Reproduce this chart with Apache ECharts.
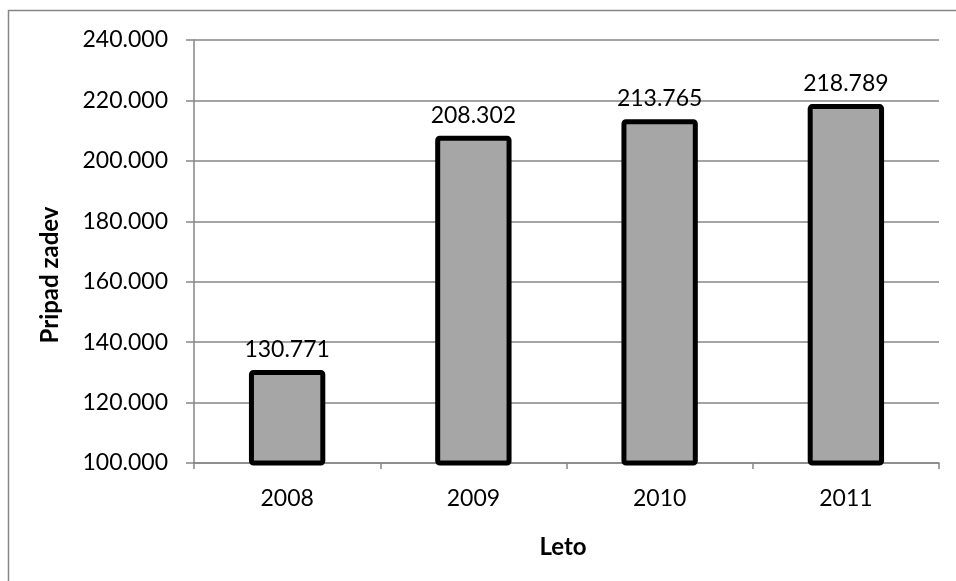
<!DOCTYPE html>
<html>
<head>
<meta charset="utf-8">
<script src="https://cdn.jsdelivr.net/npm/echarts@6/dist/echarts.min.js"></script>
<style>
html,body{margin:0;padding:0;background:#fff;}
#c{width:956px;height:581px;}
</style>
</head>
<body>
<div id="c"></div>
<script>
const categories = ['2008', '2009', '2010', '2011'];
const values = [130771, 208302, 213765, 218789];
const yMin = 100000, yMax = 240000, yStep = 20000;
const xTitle = 'Leto';
const yTitle = 'Pripad zadev';

function fmt(v) {
  return String(Math.round(v)).replace(/\B(?=(\d{3})+(?!\d))/g, '.');
}

const FONT = 'Lato';
const chart = echarts.init(document.getElementById('c'), null, {renderer: 'canvas'});
chart.setOption({
  animation: false,
  backgroundColor: '#fff',
  grid: {left: 194, right: 17, top: 40, bottom: 118, containLabel: false},
  xAxis: {
    type: 'category',
    data: categories,
    axisLine: {lineStyle: {color: '#868686', width: 1.5}},
    axisTick: {show: true, length: 6, lineStyle: {color: '#868686', width: 1.5}},
    axisLabel: {color: '#000', fontFamily: FONT, fontSize: 23, margin: 24}
  },
  yAxis: {
    type: 'value',
    min: yMin, max: yMax, interval: yStep,
    axisLine: {show: true, lineStyle: {color: '#868686', width: 1.5}},
    axisTick: {show: true, length: 8, lineStyle: {color: '#868686', width: 1.5}},
    splitLine: {lineStyle: {color: '#868686', width: 1.5}},
    axisLabel: {color: '#000', fontFamily: FONT, fontSize: 23, margin: 26, formatter: fmt}
  },
  series: [{
    type: 'bar',
    data: values,
    barWidth: '41%',
    itemStyle: {color: '#a6a6a6', borderColor: '#000', borderWidth: 5, borderRadius: 2},
    label: {show: true, position: 'top', distance: 9, color: '#000', fontFamily: FONT, fontSize: 23, formatter: p => fmt(p.value)}
  }],
  graphic: [
    {type: 'polyline', shape: {points: [[8.5, 620], [8.5, 10.5], [1000, 10.5]]}, style: {stroke: '#868686', lineWidth: 1.5, fill: null}, silent: true},
    {type: 'text', x: 563, y: 547, style: {text: xTitle, fontFamily: FONT, fontSize: 24, fontWeight: 'bold', fill: '#000', align: 'center', verticalAlign: 'middle'}},
    {type: 'text', x: 50, y: 275, rotation: Math.PI / 2, style: {text: yTitle, fontFamily: FONT, fontSize: 24, fontWeight: 'bold', fill: '#000', align: 'center', verticalAlign: 'middle'}}
  ]
});
</script>
</body>
</html>
